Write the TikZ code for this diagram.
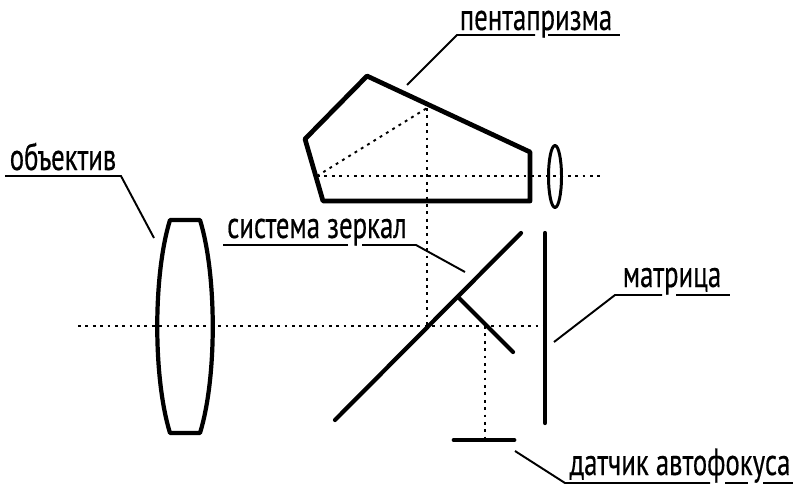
\documentclass[tikz,border=0pt]{standalone}
\usepackage{fontspec}
\setmainfont[FakeStretch=0.71,FakeBold=0.4]{PT Sans}
\usepackage{tikz}
\usetikzlibrary{positioning}

\begin{document}
\begin{tikzpicture}[
        x=0.02cm, y=-0.02cm, font=\fontsize{21.5}{24}\selectfont,
        optic/.style={line width=2.4pt, line join=round, line cap=round},
        ray/.style={line width=1.1pt, dash pattern=on 1.6pt off 2.6pt},
        leader/.style={line width=1.1pt},
        caption/.style={anchor=base, inner sep=0pt}
    ]
    \useasboundingbox (0,0) rectangle (800,494);

    % Ray paths
    \coordinate (axisL) at (78,326);
    \coordinate (axisR) at (543,326);
    \coordinate (eyeL) at (317,176);
    \coordinate (eyeR) at (603,176);
    \coordinate (roof) at (427,108);
    \coordinate (mirrorHit) at (427,326);
    \coordinate (afTop) at (485,326);
    \coordinate (afBottom) at (485,438);
    \draw[ray] (axisL) -- (axisR);
    \draw[ray] (eyeL) -- (eyeR);
    \draw[ray] (eyeL) -- (roof);
    \draw[ray] (roof) -- (mirrorHit);
    \draw[ray] (afTop) -- (afBottom);

    % Objective lens
    \draw[optic] (170,220) -- (200,220)
        .. controls (217,275) and (217,378) .. (200,433) -- (170,433)
        .. controls (153,378) and (153,275) .. cycle;

    % Pentaprism
    \draw[optic, line width=2.7pt] (367,76) -- (530,152) -- (530,201) -- (323,201) -- (305,139) -- cycle;

    % Eyepiece
    \draw[optic, line width=1.7pt] (555,176.5) ellipse (6.5 and 31);

    % Mirrors, sensor and autofocus
    \coordinate (mirrorA) at (335,420);
    \coordinate (mirrorB) at (521,233);
    \coordinate (subA) at (458,297);
    \coordinate (subB) at (513,352);
    \coordinate (sensorA) at (545,233);
    \coordinate (sensorB) at (545,423);
    \coordinate (afA) at (454,440);
    \coordinate (afB) at (514,440);
    \draw[optic] (mirrorA) -- (mirrorB);
    \draw[optic] (subA) -- (subB);
    \draw[optic] (sensorA) -- (sensorB);
    \draw[optic, line width=2.7pt] (afA) -- (afB);

    % Labels
    \node[caption] (lblPrism) at (536,30) {пентапризма};
    \node[caption] (lblLens) at (63,170) {объектив};
    \node[caption] (lblMirrors) at (317,238) {система зеркал};
    \node[caption] (lblSensor) at (672,287) {матрица};
    \node[caption] (lblFocus) at (680,475) {датчик автофокуса};

    % Leader lines, the underlines break at descenders
    \coordinate (tipPrism) at (407,85);
    \coordinate (kneePrism) at (457,35);
    \coordinate (gapPrismA) at (535,35);
    \coordinate (gapPrismB) at (548,35);
    \coordinate (endPrism) at (620,35);
    \draw[leader] (tipPrism) -- (kneePrism) -- (gapPrismA);
    \draw[leader] (gapPrismB) -- (endPrism);

    \coordinate (tipLens) at (154,238);
    \coordinate (kneeLens) at (121,176);
    \coordinate (endLens) at (5,176);
    \draw[leader] (tipLens) -- (kneeLens) -- (endLens);

    \coordinate (tipMirrors) at (465,272);
    \coordinate (kneeMirrors) at (416,245);
    \coordinate (gapMirrorsA) at (362,245);
    \coordinate (gapMirrorsB) at (348,245);
    \coordinate (endMirrors) at (223,245);
    \draw[leader] (tipMirrors) -- (kneeMirrors) -- (gapMirrorsA);
    \draw[leader] (gapMirrorsB) -- (endMirrors);

    \coordinate (tipSensor) at (554,342);
    \coordinate (kneeSensor) at (615,295);
    \coordinate (gapSensorA) at (662,295);
    \coordinate (gapSensorB) at (676,295);
    \coordinate (endSensor) at (730,295);
    \draw[leader] (tipSensor) -- (kneeSensor) -- (gapSensorA);
    \draw[leader] (gapSensorB) -- (endSensor);

    \coordinate (tipFocus) at (515,451);
    \coordinate (kneeFocus) at (565,483);
    \coordinate (gapFocusA) at (710,483);
    \coordinate (gapFocusB) at (725,483);
    \coordinate (gapFocusC) at (748,483);
    \coordinate (gapFocusD) at (763,483);
    \coordinate (endFocus) at (793,483);
    \draw[leader] (tipFocus) -- (kneeFocus) -- (gapFocusA);
    \draw[leader] (gapFocusB) -- (gapFocusC);
    \draw[leader] (gapFocusD) -- (endFocus);
\end{tikzpicture}
\end{document}
